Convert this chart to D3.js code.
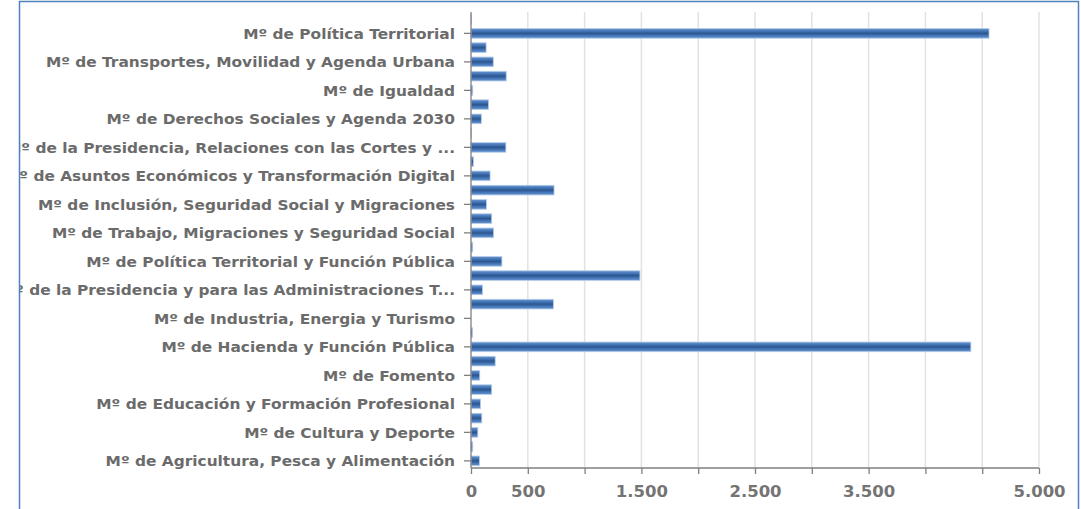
<!DOCTYPE html>
<html>
<head>
<meta charset="utf-8">
<script src="https://cdn.jsdelivr.net/npm/d3@7"></script>
<style>
  html, body { margin: 0; padding: 0; background: #ffffff; }
  svg { display: block; }
</style>
</head>
<body>
<svg id="chart" width="1081" height="509"></svg>
<script>
// Categories, top to bottom (labels shown only on every other row, as in the original)
const categories = [
  "Mº de Universidades",
  "Mº de Política Territorial",
  "Mº de Trabajo y Economía Social",
  "Mº de Transportes, Movilidad y Agenda Urbana",
  "Mº de Sanidad",
  "Mº de Igualdad",
  "Mº de Ciencia e Innovación",
  "Mº de Derechos Sociales y Agenda 2030",
  "Mº de Consumo",
  "Mº de la Presidencia, Relaciones con las Cortes y ...",
  "Mº para la Transición Ecológica y el Reto Demográfico",
  "Mº de Asuntos Económicos y Transformación Digital",
  "Mº de Hacienda",
  "Mº de Inclusión, Seguridad Social y Migraciones",
  "Mº de Industria, Comercio y Turismo",
  "Mº de Trabajo, Migraciones y Seguridad Social",
  "Mº para la Transición Ecológica",
  "Mº de Política Territorial y Función Pública",
  "Mº del Interior",
  "Mº de la Presidencia y para las Administraciones T...",
  "Mº de Empleo y Seguridad Social",
  "Mº de Industria, Energia y Turismo",
  "Mº de Economía, Industria y Competitividad",
  "Mº de Hacienda y Función Pública",
  "Mº de Justicia",
  "Mº de Fomento",
  "Mº de Energía, Turismo y Agenda Digital",
  "Mº de Educación y Formación Profesional",
  "Mº de Defensa",
  "Mº de Cultura y Deporte",
  "Mº de Asuntos Exteriores, Unión Europea y Cooperación",
  "Mº de Agricultura, Pesca y Alimentación"
];
const values = [
  3, 4560, 133, 196, 310, 15, 154, 91, 2, 307, 21, 168, 731, 136, 182, 199,
  15, 272, 1487, 101, 725, 0, 14, 4400, 213, 77, 182, 84, 95, 60, 15, 74
];
const xTickValues = [0, 500, 1000, 1500, 2000, 2500, 3000, 3500, 4000, 4500, 5000];
const xTickLabels = [0, 500, 1500, 2500, 3500, 5000];

const svg = d3.select("#chart");
const fmt = d3.formatLocale({decimal: ",", thousands: ".", grouping: [3], currency: ["", "€"]}).format(",d");

const x = d3.scaleLinear().domain([0, 5000]).range([471, 1039]);
const y = d3.scaleBand().domain(categories).range([12, 468]).paddingInner(0.32).paddingOuter(0.16);

// gradient for bars
const defs = svg.append("defs");
const g = defs.append("linearGradient").attr("id", "barGrad").attr("x1", 0).attr("y1", 0).attr("x2", 0).attr("y2", 1);
[["0%", "#6a97d2"], ["25%", "#4677b8"], ["50%", "#2b5690"], ["75%", "#4677b8"], ["100%", "#6a97d2"]]
  .forEach(([o, c]) => g.append("stop").attr("offset", o).attr("stop-color", c));
defs.append("clipPath").attr("id", "clipL").append("rect")
  .attr("x", 20).attr("y", 0).attr("width", 1060).attr("height", 509);

// gridlines
svg.append("g").selectAll("line").data(xTickValues.filter(d => d > 0)).join("line")
  .attr("x1", d => x(d)).attr("x2", d => x(d))
  .attr("y1", 12).attr("y2", 468)
  .attr("stroke", "#e2e2e2").attr("stroke-width", 1.5);

// bars
svg.append("g").selectAll("rect").data(categories).join("rect")
  .attr("x", x(0))
  .attr("y", d => y(d))
  .attr("width", (d, i) => Math.max(0, x(values[i]) - x(0)))
  .attr("height", y.bandwidth())
  .attr("fill", "url(#barGrad)")
  .attr("stroke", "#b7cde8").attr("stroke-width", 0.8);

// y axis (labels clipped at the frame)
const labelsClip = svg.append("g").attr("clip-path", "url(#clipL)");
const yAxis = d3.axisLeft(y)
  .tickValues(categories.filter((d, i) => i % 2 === 1))
  .tickSize(7).tickPadding(9);
const ya = labelsClip.append("g").attr("transform", `translate(${x(0)},0)`).call(yAxis);
ya.select(".domain").attr("stroke", "#7f7f7f").attr("stroke-width", 1.3).attr("d", `M0,12V468`);
ya.selectAll(".tick line").attr("stroke", "#7f7f7f").attr("stroke-width", 1.3);
ya.selectAll(".tick text")
  .attr("font-family", "DejaVu Sans").attr("font-weight", "bold").attr("font-size", "14px")
  .attr("fill", "#6b6b6b")
  .attr("transform", "translate(-16,1) scale(1.1,1)")
  .attr("x", 0);

// x axis
const xAxis = d3.axisBottom(x).tickValues(xTickValues).tickSize(6)
  .tickFormat(d => xTickLabels.includes(d) ? fmt(d) : "").tickPadding(11);
const xa = svg.append("g").attr("transform", `translate(0,468)`).call(xAxis);
xa.select(".domain").attr("stroke", "#7f7f7f").attr("stroke-width", 1.3).attr("d", `M${x(0)},0H${x(5000)}`);
xa.selectAll(".tick line").attr("stroke", "#7f7f7f").attr("stroke-width", 1.3);
xa.selectAll(".tick text")
  .attr("font-family", "DejaVu Sans").attr("font-weight", "bold").attr("font-size", "16.5px")
  .attr("fill", "#747474");

// frame
svg.append("path").attr("d", "M19.5,509V1.5H1078.5V509")
  .attr("fill", "none").attr("stroke", "#4f81bd").attr("stroke-width", 1.5);
</script>
</body>
</html>
